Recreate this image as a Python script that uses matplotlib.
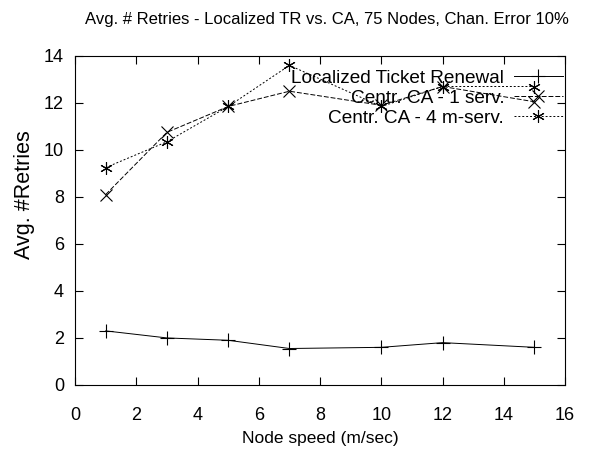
import numpy as np
import matplotlib.pyplot as plt

plt.rcParams['font.family'] = ['Liberation Sans', 'DejaVu Sans']

speed = [1, 3, 5, 7, 10, 12, 15]
localized = [2.3, 2.0, 1.9, 1.55, 1.6, 1.8, 1.6]
ca_1serv = [8.1, 10.75, 11.85, 12.5, 11.9, 12.7, 12.05]
ca_4mserv = [9.25, 10.35, 11.85, 13.6, 11.85, 12.7, 12.7]

fig = plt.figure(figsize=(6.07, 4.55), dpi=100)
ax = fig.add_axes([0.1236, 0.154, 0.8074, 0.723])

ax.plot(speed, localized, color='black', lw=0.7, marker='+', ms=10, mew=0.8,
        label='Localized Ticket Renewal')
ax.plot(speed, ca_1serv, color='black', lw=0.7, ls=(0, (5, 2)), marker='x',
        ms=8, mew=0.8, label='Centr. CA - 1 serv.')
ax.plot(speed, ca_4mserv, color='black', lw=0.7, ls=(0, (2, 2)), marker=(6, 2, 0),
        ms=9, mew=0.8, label='Centr. CA - 4 m-serv.')

ax.set_xlim(0, 16)
ax.set_ylim(0, 14)
ax.set_xticks(np.arange(0, 17, 2))
ax.set_yticks(np.arange(0, 15, 2))
ax.tick_params(direction='in', top=True, right=True, length=6, labelsize=13)
ax.tick_params(axis='x', pad=16)
ax.tick_params(axis='y', pad=8)
ax.set_xlabel('Node speed (m/sec)', fontsize=12.5, labelpad=5)
ax.set_ylabel('Avg. #Retries', fontsize=15.5)
ax.yaxis.set_label_coords(-0.082, 0.58)
fig.text(0.539, 0.958,
         'Avg. # Retries - Localized TR vs. CA, 75 Nodes, Chan. Error 10%',
         fontsize=12, ha='center', va='center')

ax.legend(loc='upper right', frameon=False, markerfirst=False, fontsize=13.7,
          handlelength=2.6, handletextpad=0.5, borderaxespad=0.1,
          borderpad=0.0, labelspacing=0.15, bbox_to_anchor=(1.0, 0.965))

fig.savefig('out.png', dpi=100)
